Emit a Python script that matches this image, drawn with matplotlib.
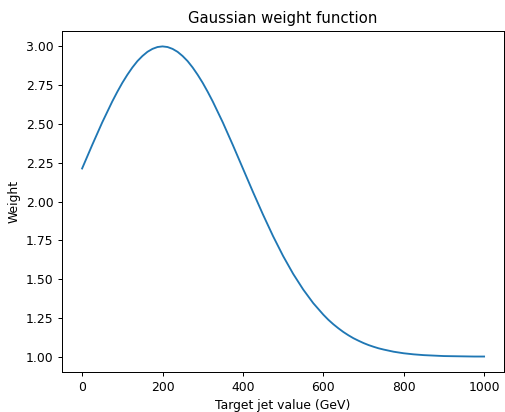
import matplotlib
matplotlib.use("Agg")
import matplotlib.pyplot as plt

# target jet value (GeV) and weight
jet_value = [0, 25, 50, 75, 87.5, 100, 112.5, 125, 137.5, 150, 162.5, 175,
             187.5, 200, 212.5, 225, 237.5, 250, 262.5, 275, 287.5, 300,
             312.5, 325, 350, 375, 400, 425, 450, 475, 500, 525, 550, 575,
             600, 612.5, 625, 637.5, 650, 662.5, 675, 687.5, 700, 712.5, 725,
             737.5, 750, 775, 800, 825, 850, 875, 900, 925, 950, 975, 1000]
weight = [2.213, 2.364, 2.510, 2.645, 2.707, 2.765, 2.817, 2.864, 2.905,
          2.938, 2.965, 2.984, 2.996, 3.000, 2.996, 2.984, 2.965, 2.938,
          2.905, 2.864, 2.817, 2.765, 2.707, 2.645, 2.510, 2.364, 2.213,
          2.062, 1.916, 1.777, 1.649, 1.534, 1.433, 1.345, 1.271, 1.238,
          1.209, 1.183, 1.159, 1.138, 1.119, 1.103, 1.088, 1.075, 1.064,
          1.054, 1.046, 1.032, 1.022, 1.015, 1.010, 1.007, 1.004, 1.003,
          1.002, 1.001, 1.001]

dpi = 89
fig = plt.figure(figsize=(505 / dpi, 412 / dpi), dpi=dpi)
ax = fig.add_axes([0.1228, 0.097, 0.8756, 0.828])

ax.plot(jet_value, weight, color="#1f77b4")
ax.set_title("Gaussian weight function")
ax.set_xlabel("Target jet value (GeV)")
ax.set_ylabel("Weight")

fig.savefig("out.png", dpi=dpi)
